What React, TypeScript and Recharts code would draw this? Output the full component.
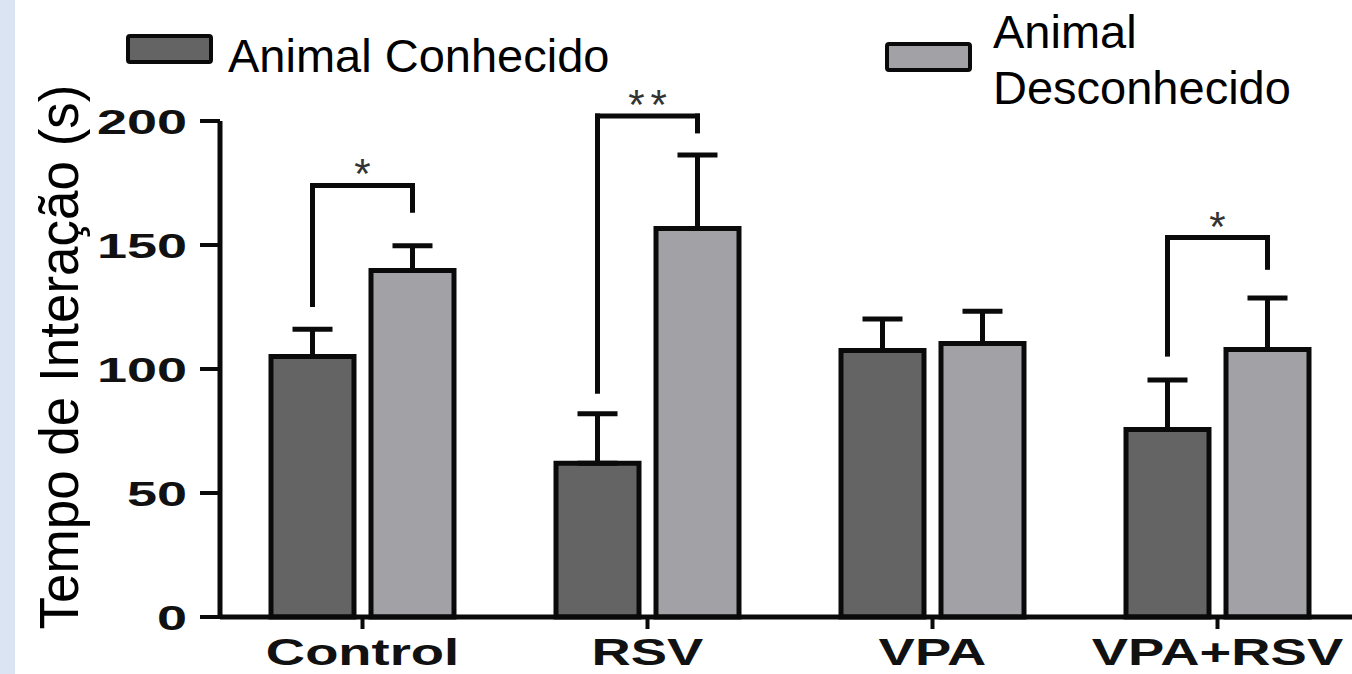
import { BarChart, Bar, XAxis, YAxis, ErrorBar, ReferenceLine, ReferenceDot, Legend } from "recharts";

const groups = ["Control", "RSV", "VPA", "VPA+RSV"];
const conhecido = [105, 62, 107.5, 75.6];
const conhecidoErr = [11, 20, 12.7, 20];
const desconhecido = [139.7, 156.7, 110.3, 107.9];
const desconhecidoErr = [10, 29.6, 13, 20.7];
const yTicks = [0, 50, 100, 150, 200];

// significance brackets: left leg starts, top, right leg starts
const sigGroups = ["Control", "RSV", "VPA+RSV"];
const sigLeftFrom = [126, 91, 106];
const sigTop = [174, 202, 153];
const sigRightFrom = [164, 196, 141];
const sigMarks = ["*", "**", "*"];

const COLORS = {
  dark: "#646464",
  light: "#a2a1a6",
  line: "#0a0a0a",
  star: "#333333",
  strip: "#dbe4f3",
};
const FONT = "'Liberation Sans', Arial, sans-serif";

const CHART_W = 1360;
const CHART_H = 674;
const LEFT = 220;
const BAND = (CHART_W - LEFT) / groups.length;
const CAT_GAP = 51;
const BAR_GAP = 17;
const BAR_W = (BAND - 2 * CAT_GAP - BAR_GAP) / 2;
// distance from group centre to each bar centre
const HALF = (BAR_W + BAR_GAP) / 2;

const data = groups.map((g, i) => ({
  group: g,
  conhecido: conhecido[i],
  conhecidoErr: [0, conhecidoErr[i]],
  desconhecido: desconhecido[i],
  desconhecidoErr: [0, desconhecidoErr[i]],
}));

function YTick({ x, y, payload }: any) {
  return (
    <g transform={`translate(${x},${y})`}>
      <text transform="scale(1.5,1)" textAnchor="end" dy="0.355em" fontSize={36} fontWeight="bold" fontFamily={FONT} fill="#111">
        {payload.value}
      </text>
    </g>
  );
}

function XTick({ x, y, payload }: any) {
  return (
    <g transform={`translate(${x},${y})`}>
      <text transform="scale(1.47,1)" textAnchor="middle" y={34} fontSize={37} fontWeight="bold" fontFamily={FONT} fill="#111">
        {payload.value}
      </text>
    </g>
  );
}

function YTitle({ viewBox }: any) {
  const cx = viewBox.x + 78;
  const cy = viewBox.y + viewBox.height / 2 - 12;
  return (
    <text transform={`translate(${cx},${cy}) rotate(-90) scale(1,1.04)`} textAnchor="middle" fontSize={53} fontFamily={FONT} fill="#000">
      Tempo de Interação (s)
    </text>
  );
}

const legendPos = [
  { box: [126, 34], text: [228, 28], width: 420 },
  { box: [885, 42], text: [993, 4], width: 320 },
];

function LegendBlock({ payload }: any) {
  return (
    <div style={{ position: "relative", width: 1352, height: 110, fontFamily: FONT }}>
      {(payload || []).map((p: any, i: number) => {
        const pos = legendPos[i];
        return (
          <div key={p.value}>
            <div
              style={{
                position: "absolute", left: pos.box[0], top: pos.box[1], width: 79, height: 22,
                background: p.color, border: `4px solid ${COLORS.line}`, borderRadius: 4,
              }}
            />
            <div
              style={{
                position: "absolute", left: pos.text[0], top: pos.text[1], width: pos.width,
                fontSize: 47, lineHeight: "56px", color: "#000", textAlign: "left",
              }}
            >
              {p.value}
            </div>
          </div>
        );
      })}
    </div>
  );
}

const shifted = (dx1: number, dx2: number) => (p: any) => (
  <line
    x1={p.x1 + dx1}
    y1={p.y1}
    x2={p.x2 + dx2}
    y2={p.y2}
    stroke={COLORS.line}
    strokeWidth={5}
    strokeLinecap="square"
  />
);

export default function App() {
  return (
    <div style={{ position: "absolute", left: 0, top: 0, width: 1352, height: 674, overflow: "hidden", background: "#fff" }}>
      <div style={{ position: "absolute", left: 0, top: 0, width: 15, height: 674, background: COLORS.strip }} />
      <BarChart
        width={CHART_W}
        height={CHART_H}
        data={data}
        margin={{ top: 121, right: 0, bottom: 0, left: 0 }}
        barCategoryGap={CAT_GAP}
        barGap={BAR_GAP}
      >
        <XAxis
          dataKey="group"
          height={57}
          interval={0}
          tickSize={12}
          tickMargin={2}
          axisLine={{ stroke: COLORS.line, strokeWidth: 5 }}
          tickLine={{ stroke: COLORS.line, strokeWidth: 4 }}
          tick={<XTick />}
        />
        <YAxis
          width={LEFT}
          domain={[0, 200]}
          ticks={yTicks}
          interval={0}
          tickSize={20}
          tickMargin={13}
          axisLine={{ stroke: COLORS.line, strokeWidth: 5 }}
          tickLine={{ stroke: COLORS.line, strokeWidth: 4 }}
          tick={<YTick />}
          label={(props: any) => <YTitle {...props} />}
        />
        <Legend
          layout="vertical"
          align="center"
          verticalAlign="middle"
          wrapperStyle={{ top: 0, left: 0, width: 1352, height: 110 }}
          content={<LegendBlock />}
        />
        <Bar dataKey="conhecido" name="Animal Conhecido" fill={COLORS.dark} stroke={COLORS.line} strokeWidth={5} isAnimationActive={false}>
          <ErrorBar dataKey="conhecidoErr" direction="y" width={20} stroke={COLORS.line} strokeWidth={5} isAnimationActive={false} />
        </Bar>
        <Bar dataKey="desconhecido" name="Animal Desconhecido" fill={COLORS.light} stroke={COLORS.line} strokeWidth={5} isAnimationActive={false}>
          <ErrorBar dataKey="desconhecidoErr" direction="y" width={20} stroke={COLORS.line} strokeWidth={5} isAnimationActive={false} />
        </Bar>
        {sigGroups.map((g, i) => [
          <ReferenceLine
            key={`l${i}`}
            ifOverflow="visible"
            segment={[{ x: g, y: sigLeftFrom[i] }, { x: g, y: sigTop[i] }]}
            shape={shifted(-HALF, -HALF)}
          />,
          <ReferenceLine
            key={`t${i}`}
            ifOverflow="visible"
            segment={[{ x: g, y: sigTop[i] }, { x: g, y: sigTop[i] }]}
            shape={shifted(-HALF, HALF)}
          />,
          <ReferenceLine
            key={`r${i}`}
            ifOverflow="visible"
            segment={[{ x: g, y: sigTop[i] }, { x: g, y: sigRightFrom[i] }]}
            shape={shifted(HALF, HALF)}
          />,
          <ReferenceDot
            key={`s${i}`}
            x={g}
            y={sigTop[i]}
            r={0}
            ifOverflow="visible"
            shape={(p: any) => (
              <text x={p.cx + (sigMarks[i].length > 1 ? 3 : 0)} y={p.cy + 3} textAnchor="middle" fontSize={42} letterSpacing={sigMarks[i].length > 1 ? 6 : 0} fontFamily={FONT} fill={COLORS.star}>
                {sigMarks[i]}
              </text>
            )}
          />,
        ])}
      </BarChart>
    </div>
  );
}
